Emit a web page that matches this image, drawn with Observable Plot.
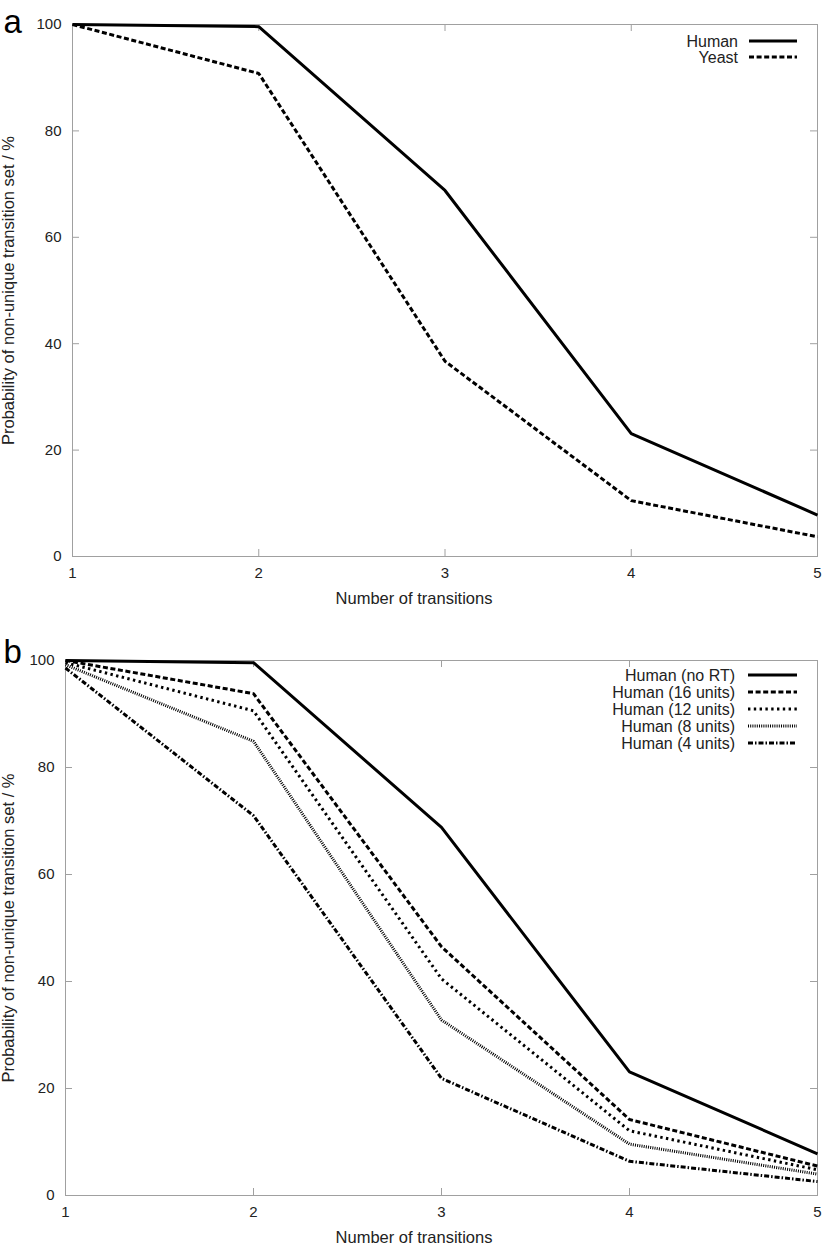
<!DOCTYPE html>
<html><head><meta charset="utf-8">
<script src="https://cdn.jsdelivr.net/npm/d3@7"></script>
<script src="https://cdn.jsdelivr.net/npm/@observablehq/plot@0.6"></script>
<style>
body{margin:0;background:#fff;font-family:'Liberation Sans', Arial, Helvetica, sans-serif;}
svg{display:block;}
</style>
</head><body>
<div id="a"></div><div id="b"></div>
<script>
// ---- data ----
const transitions = [1, 2, 3, 4, 5];
const xTicks = [1, 2, 3, 4, 5];
const yTicks = [0, 20, 40, 60, 80, 100];

const seriesA = ["Human", "Yeast"];
const humanA = [100, 99.6, 68.8, 23.1, 7.8];
const yeastA = [100, 90.8, 36.7, 10.5, 3.7];

const seriesB = ["Human (no RT)", "Human (16 units)", "Human (12 units)", "Human (8 units)", "Human (4 units)"];
const humanNoRT = [100, 99.6, 68.8, 23.1, 7.8];
const human16 = [100, 93.8, 46.5, 14.2, 5.5];
const human12 = [99.6, 90.6, 40.5, 12.1, 4.8];
const human8 = [99.2, 84.9, 32.8, 9.6, 4.0];
const human4 = [98.6, 71.0, 21.9, 6.4, 2.6];

// ---- styles ----
const dashSolid = null;
const dashDash = "5,2.6";
const dashDot = "2.4,3.4";
const dashFine = "1,1.2";
const dashDashDot = "5,2,1.5,2";

const FONT = "'Liberation Sans', Arial, Helvetica, sans-serif";
const yLabel = "Probability of non-unique transition set / %";
const xLabel = "Number of transitions";

function rows(names, valueArrays) {
  const out = [];
  names.forEach((n, i) => transitions.forEach((t, j) => out.push({series: n, x: t, y: valueArrays[i][j]})));
  return out;
}

function makePanel(opt) {
  const {width, height, mt, mb, ml, mr, names, values, styles, letter, letterDy, legendEnd, legendX1, legendX2, legendY0, legendStep} = opt;
  const data = rows(names, values);
  const pw = width - ml - mr, ph = height - mt - mb;
  const gray = "#a0a0a0";
  const marks = [
    Plot.frame({stroke: gray, strokeWidth: 1}),
    Plot.tickX(xTicks, {x: d => d, stroke: gray, insetTop: ph - 7}),
    Plot.tickX(xTicks, {x: d => d, stroke: gray, insetBottom: ph - 7}),
    Plot.tickY(yTicks, {y: d => d, stroke: gray, insetRight: pw - 7}),
    Plot.tickY(yTicks, {y: d => d, stroke: gray, insetLeft: pw - 7}),
    Plot.axisX({ticks: xTicks, tickSize: 0, tickPadding: 11, tickFormat: d3.format("d"), fontSize: 15, fontFamily: FONT, label: null}),
    Plot.axisY({ticks: yTicks, tickSize: 0, tickPadding: 11, fontSize: 15, fontFamily: FONT, label: null}),
    Plot.text([xLabel], {text: d => d, frameAnchor: "bottom", dx: width / 2 - (ml + pw / 2), dy: 42, textAnchor: "middle", lineAnchor: "middle", fontSize: 16.5, fontFamily: FONT, fill: "#222"}),
    Plot.text([yLabel], {text: d => d, frameAnchor: "left", dx: -(ml - 2), rotate: -90, textAnchor: "middle", lineAnchor: "top", fontSize: 16.5, fontFamily: FONT, fill: "#222"})
  ];
  names.forEach((n, i) => {
    marks.push(Plot.line(data.filter(d => d.series === n), {
      x: "x", y: "y", stroke: "#000", strokeWidth: styles[i].w,
      strokeDasharray: styles[i].dash, strokeLinecap: "butt", strokeLinejoin: "miter"
    }));
  });
  marks.push(Plot.text([letter], {text: d => d, frameAnchor: "top-left", dx: -ml + 3, dy: letterDy, textAnchor: "start", lineAnchor: "middle", fontSize: 33, fontFamily: FONT, fill: "#000"}));
  const svg = Plot.plot({
    width, height, marginTop: mt, marginBottom: mb, marginLeft: ml, marginRight: mr,
    style: {fontFamily: FONT, fontSize: "15px", color: "#222", background: "#fff"},
    x: {domain: [1, 5]},
    y: {domain: [0, 100]},
    marks
  });
  const g = d3.select(svg).append("g").attr("font-family", FONT).attr("font-size", 16);
  names.forEach((n, i) => {
    const yy = legendY0 + i * legendStep;
    g.append("text").attr("x", legendEnd).attr("y", yy).attr("dy", "0.35em").attr("text-anchor", "end").attr("fill", "#222").text(n);
    const l = g.append("line").attr("x1", legendX1).attr("x2", legendX2).attr("y1", yy).attr("y2", yy)
      .attr("stroke", "#000").attr("stroke-width", styles[i].w);
    if (styles[i].dash) l.attr("stroke-dasharray", styles[i].dash);
  });
  return svg;
}

document.getElementById("a").appendChild(makePanel({
  width: 827, height: 620, mt: 24, mb: 64, ml: 72, mr: 10,
  names: seriesA, values: [humanA, yeastA],
  styles: [{w: 3, dash: dashSolid}, {w: 3, dash: dashDash}],
  letter: "a", letterDy: -2,
  legendEnd: 738, legendX1: 749, legendX2: 797, legendY0: 41, legendStep: 16
}));
document.getElementById("b").appendChild(makePanel({
  width: 827, height: 627, mt: 40, mb: 52, ml: 65, mr: 10,
  names: seriesB, values: [humanNoRT, human16, human12, human8, human4],
  styles: [{w: 3, dash: dashSolid}, {w: 3, dash: dashDash}, {w: 3, dash: dashDot}, {w: 3, dash: dashFine}, {w: 3, dash: dashDashDot}],
  letter: "b", letterDy: -8,
  legendEnd: 735, legendX1: 748, legendX2: 797, legendY0: 55, legendStep: 17
}));
</script>
</body></html>
